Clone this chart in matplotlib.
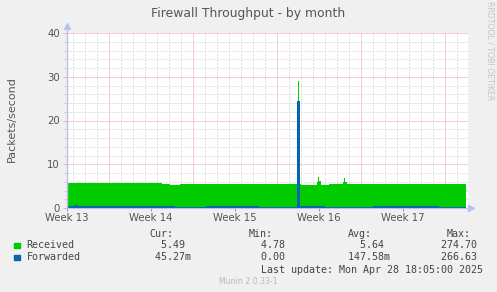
import numpy as np
import matplotlib.pyplot as plt

W, H = 497, 292

# x axis in days from the start of Week 13
week_labels = ['Week 13', 'Week 14', 'Week 15', 'Week 16', 'Week 17']
week_days = [0, 7, 14, 21, 28]

# Received (packets/s), step data: value holds from day[i] to day[i+1]
rcv_day = [0.0, 0.4, 0.9, 1.5, 2.1, 2.8, 3.4, 4.0, 4.6, 5.3, 5.9, 6.6, 7.2, 7.9,
           8.6, 9.4, 10.2, 11.0, 11.9, 12.8, 13.6, 14.5, 15.3, 16.2, 17.0, 17.9,
           18.6, 19.14, 19.26, 19.32, 19.47, 20.2, 20.8, 20.92, 21.04, 21.15,
           21.8, 22.5, 23.0, 23.08, 23.2, 23.3, 23.9, 24.8, 25.7, 26.5, 27.4,
           28.2, 29.1, 29.9, 30.8, 31.6, 32.5, 33.25]
rcv_val = [5.7, 5.75, 5.6, 5.7, 5.65, 5.75, 5.6, 5.7, 5.65, 5.7, 5.6, 5.65, 5.7, 5.5,
           5.3, 5.55, 5.5, 5.55, 5.5, 5.55, 5.5, 5.45, 5.5, 5.5, 5.45, 5.5,
           5.5, 5.5, 29.0, 5.4, 5.3, 5.35, 6.0, 7.0, 6.2, 5.3,
           5.4, 5.45, 6.0, 6.8, 6.0, 5.4, 5.5, 5.45, 5.5, 5.4, 5.5,
           5.45, 5.5, 5.4, 5.5, 5.45, 5.5, 0.0]

# Forwarded (packets/s)
fwd_day = [0.0, 0.7, 0.9, 4.0, 4.2, 9.0, 11.6, 11.8, 16.0, 19.17, 19.43,
           21.5, 25.5, 25.7, 31.0, 33.25]
fwd_val = [0.35, 0.6, 0.35, 0.5, 0.35, 0.3, 0.5, 0.35, 0.3, 24.5, 0.35,
           0.3, 0.45, 0.35, 0.3, 0.0]

legend_rows = [
    ('Received', '#00cc00', '  5.49 ', '  4.78 ', '   5.64 ', '274.70 '),
    ('Forwarded', '#0066b3', ' 45.27m', '  0.00 ', ' 147.58m', '266.63 '),
]

bg = '#f0f0f0'
fig = plt.figure(figsize=(W / 100, H / 100), dpi=100, facecolor=bg)
x0, x1, y0, y1 = 67, 468, 33, 208
ax = fig.add_axes([x0 / W, 1 - y1 / H, (x1 - x0) / W, (y1 - y0) / H])
ax.set_facecolor('white')

xmax = (x1 - x0) / 12.0
ax.set_xlim(0, xmax)
ax.set_ylim(0, 40)

# grid
red = '#f0a0a0'
grey = '#c4c4c4'
for d in np.arange(0.5, xmax, 1.0):
    if abs((d - 3.5) % 7) < 1e-6:
        ax.axvline(d, color=red, lw=0.72, ls=(0, (1, 1)), zorder=1)
    else:
        ax.axvline(d, color=grey, lw=0.72, ls=(0, (1, 2)), zorder=1)
for v in range(2, 41, 2):
    if v % 10 == 0:
        ax.axhline(v, color=red, lw=0.72, ls=(0, (1, 1)), zorder=1)
    else:
        ax.axhline(v, color=grey, lw=0.72, ls=(0, (1, 2)), zorder=1)

ax.fill_between(rcv_day, rcv_val, step='post', color='#00cc00', lw=0, zorder=2)
ax.fill_between(fwd_day, fwd_val, step='post', color='#0066b3', lw=0, zorder=3)

for s in ax.spines.values():
    s.set_visible(False)
axc = '#b8c0f0'
ax.plot([0, 0], [0, 41.5], color=axc, lw=1, clip_on=False, zorder=4)
ax.plot([0, xmax + 0.1], [0, 0], color=axc, lw=0.8, clip_on=False, zorder=4)
ax.plot([0], [41.6], marker='^', ms=4, color=axc, clip_on=False, zorder=4)
ax.plot([xmax + 0.25], [0], marker='>', ms=4, color=axc, clip_on=False, zorder=4)

ax.set_yticks([0, 10, 20, 30, 40])
ax.set_yticks(range(2, 40, 2), minor=True)
ax.set_xticks(week_days)
ax.set_xticklabels(week_labels)
ax.tick_params(axis='y', which='major', length=3, width=0.6, color=red,
               labelsize=7.3, labelcolor='#555555', pad=2)
ax.tick_params(axis='y', which='minor', length=2, width=0.6, color=grey)
ax.tick_params(axis='x', which='major', length=2.5, width=0.6, color='#888888',
               labelsize=7.3, labelcolor='#555555', pad=0.8)

fig.text(248 / W, 1 - 14 / H, 'Firewall Throughput - by month', ha='center',
         va='center', fontsize=8.9, color='#555555')
fig.text(12 / W, 1 - 119 / H, 'Packets/second', rotation=90, ha='center',
         va='center', fontsize=8.0, color='#555555')
fig.text(490 / W, 1 - 51 / H, 'RRDTOOL / TOBI OETIKER', rotation=270, ha='center',
         va='center', fontsize=5.6, color='#c4c4c4')

mono = 'DejaVu Sans Mono'
fs = 7.2
tc = '#444444'


def ftext(x, y, s, **kw):
    fig.text(x / W, 1 - y / H, s, va='center', ha='left', family=mono,
             fontsize=fs, color=kw.pop('color', tc), **kw)


ftext(149, 234, 'Cur:')
ftext(249, 234, 'Min:')
ftext(348, 234, 'Avg:')
ftext(447, 234, 'Max:')
col_x = [149, 249, 342, 441]
for i, (name, col, cur, mn, avg, mx) in enumerate(legend_rows):
    y = 245.5 + i * 11.8
    fig.patches.append(plt.Rectangle((14 / W, 1 - (y + 2.5) / H), 5.5 / W, 5 / H,
                                     transform=fig.transFigure, color=col))
    ftext(26.5, y, name)
    ftext(col_x[0], y, cur)
    ftext(col_x[1], y, mn)
    ftext(col_x[2], y, avg)
    ftext(col_x[3], y, mx)
ftext(261, 270, 'Last update: Mon Apr 28 18:05:00 2025')
fig.text(248 / W, 1 - 282 / H, 'Munin 2.0.33-1', ha='center', va='center',
         fontsize=5.6, color='#b8b8b8')

fig.savefig('out.png', dpi=100, facecolor=bg)
